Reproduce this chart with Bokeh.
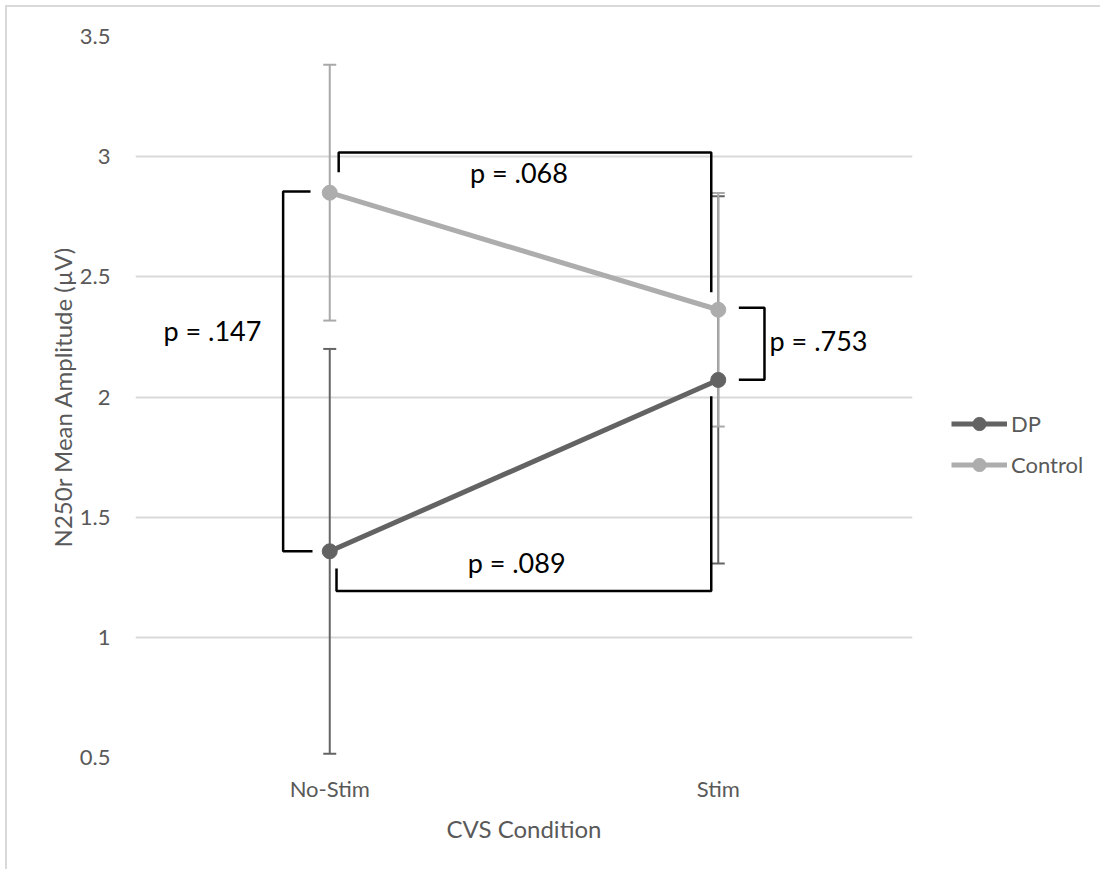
from bokeh.plotting import figure
from bokeh.layouts import row
from bokeh.models import FactorRange, Range1d, FixedTicker, NumeralTickFormatter, Legend, LegendItem
from bokeh.embed import file_html
from bokeh.resources import INLINE
from bokeh.core.properties import value

# ---------------- data ----------------
conditions = ["No-Stim", "Stim"]
dp_mean = [1.358, 2.071]
dp_err = [0.842, 0.764]
control_mean = [2.850, 2.363]
control_err = [0.532, 0.486]
y_ticks = [0.5, 1, 1.5, 2, 2.5, 3, 3.5]
series_names = ["DP", "Control"]

# significance brackets (x in category units: No-Stim = 0.5, Stim = 1.5)
p_labels = ["p = .068", "p = .147", "p = .753", "p = .089"]
bracket_x = [[0.523, 0.523, 1.482, 1.482],
             [0.4505, 0.380, 0.380, 0.4556],
             [1.553, 1.619, 1.619, 1.553],
             [0.5174, 0.5174, 1.482, 1.482]]
bracket_y = [[2.935, 3.017, 3.017, 2.436],
             [2.855, 2.855, 1.358, 1.358],
             [2.371, 2.371, 2.072, 2.072],
             [1.286, 1.193, 1.193, 2.003]]
label_x = [0.987, 0.198, 1.632, 0.981]
label_y = [2.934, 2.277, 2.235, 1.311]
label_align = ["center", "center", "left", "center"]

# ---------------- style ----------------
FONT = "Lato"
TXT = "#595959"
DP_COL = "#636363"
CT_COL = "#ADADAD"
DP_ERR = "#646464"
CT_ERR = "#A9A9A9"
GRID = "#D9D9D9"
H = 864

p = figure(
    x_range=FactorRange(*conditions, range_padding=0),
    y_range=Range1d(0.5, 3.5),
    width=945, height=H,
    min_border_left=128, min_border_right=40, min_border_top=29, min_border_bottom=114,
    output_backend="svg", toolbar_location=None,
)
p.margin = (5, 0, 0, 5)
p.styles = {"border-left": "2px solid #D9D9D9", "border-top": "2px solid #D9D9D9"}
p.outline_line_color = None
p.background_fill_color = "white"
p.border_fill_color = "white"

# axes
p.yaxis.ticker = FixedTicker(ticks=y_ticks)
p.yaxis.formatter = NumeralTickFormatter(format="0.[0]")
for ax in (p.xaxis[0], p.yaxis[0]):
    ax.axis_line_color = None
    ax.major_tick_line_color = None
    ax.minor_tick_line_color = None
    ax.major_tick_out = 0
    ax.major_tick_in = 0
    ax.major_label_text_font = FONT
    ax.major_label_text_font_size = "22px"
    ax.major_label_text_color = TXT
    ax.axis_label_text_font = FONT
    ax.axis_label_text_font_size = "24px"
    ax.axis_label_text_font_style = "normal"
    ax.axis_label_text_color = TXT
p.yaxis.major_label_standoff = 25
p.yaxis.axis_label = "N250r Mean Amplitude (µV)"
p.yaxis.axis_label_standoff = 0
p.xaxis.major_label_standoff = 17
p.xaxis.axis_label = "CVS Condition"
p.xaxis.axis_label_standoff = 9

p.xgrid.grid_line_color = None
p.ygrid.grid_line_color = GRID
p.ygrid.grid_line_width = 2

# error bars
dp_lo = [m - e for m, e in zip(dp_mean, dp_err)]
dp_hi = [m + e for m, e in zip(dp_mean, dp_err)]
ct_lo = [m - e for m, e in zip(control_mean, control_err)]
ct_hi = [m + e for m, e in zip(control_mean, control_err)]

for lo, hi, col in ((dp_lo, dp_hi, DP_ERR), (ct_lo, ct_hi, CT_ERR)):
    p.segment(x0=conditions, y0=lo, x1=conditions, y1=hi, line_color=col, line_width=2)
    p.scatter(x=conditions * 2, y=lo + hi, marker="dash", size=13,
              line_color=col, line_width=2)

# series
p.line(conditions, dp_mean, line_color=DP_COL, line_width=5)
p.scatter(conditions, dp_mean, size=15, fill_color=DP_COL, line_color=DP_COL)
p.line(conditions, control_mean, line_color=CT_COL, line_width=5)
p.scatter(conditions, control_mean, size=15, fill_color=CT_COL, line_color=CT_COL)

# brackets and p labels
p.multi_line(xs=bracket_x, ys=bracket_y, line_color="black", line_width=2.5)
p.text(x=label_x, y=label_y, text=p_labels, text_align=label_align,
       text_baseline="middle", text_font=value(FONT), text_font_size="27px",
       text_color="black")

# ---------------- legend panel (right of the chart) ----------------
pl = figure(width=150, height=H, x_range=Range1d(0, 1), y_range=Range1d(0, 1),
            x_axis_location=None, y_axis_location=None,
            min_border=0, output_backend="svg", toolbar_location=None)
pl.margin = (5, 0, 0, 0)
pl.styles = {"border-top": "2px solid #D9D9D9"}
pl.outline_line_color = None
pl.grid.visible = False
items = []
for name, col in zip(series_names, (DP_COL, CT_COL)):
    # legend proxies, placed outside the visible range
    lr = pl.line([5, 6], [5, 6], line_color=col, line_width=5)
    sr = pl.scatter([5], [5], size=15, fill_color=col, line_color=col)
    items.append(LegendItem(label=name, renderers=[lr, sr]))

legend = Legend(
    items=items,
    location=(1, 276),
    glyph_width=56, glyph_height=33, label_height=33, spacing=8,
    label_standoff=4, padding=0, margin=0,
    border_line_color=None, background_fill_alpha=0,
    label_text_font=FONT, label_text_font_size="22px", label_text_color=TXT,
)
pl.add_layout(legend, "center")

layout = row(p, pl)
open("out.html", "w").write(file_html(layout, INLINE))
